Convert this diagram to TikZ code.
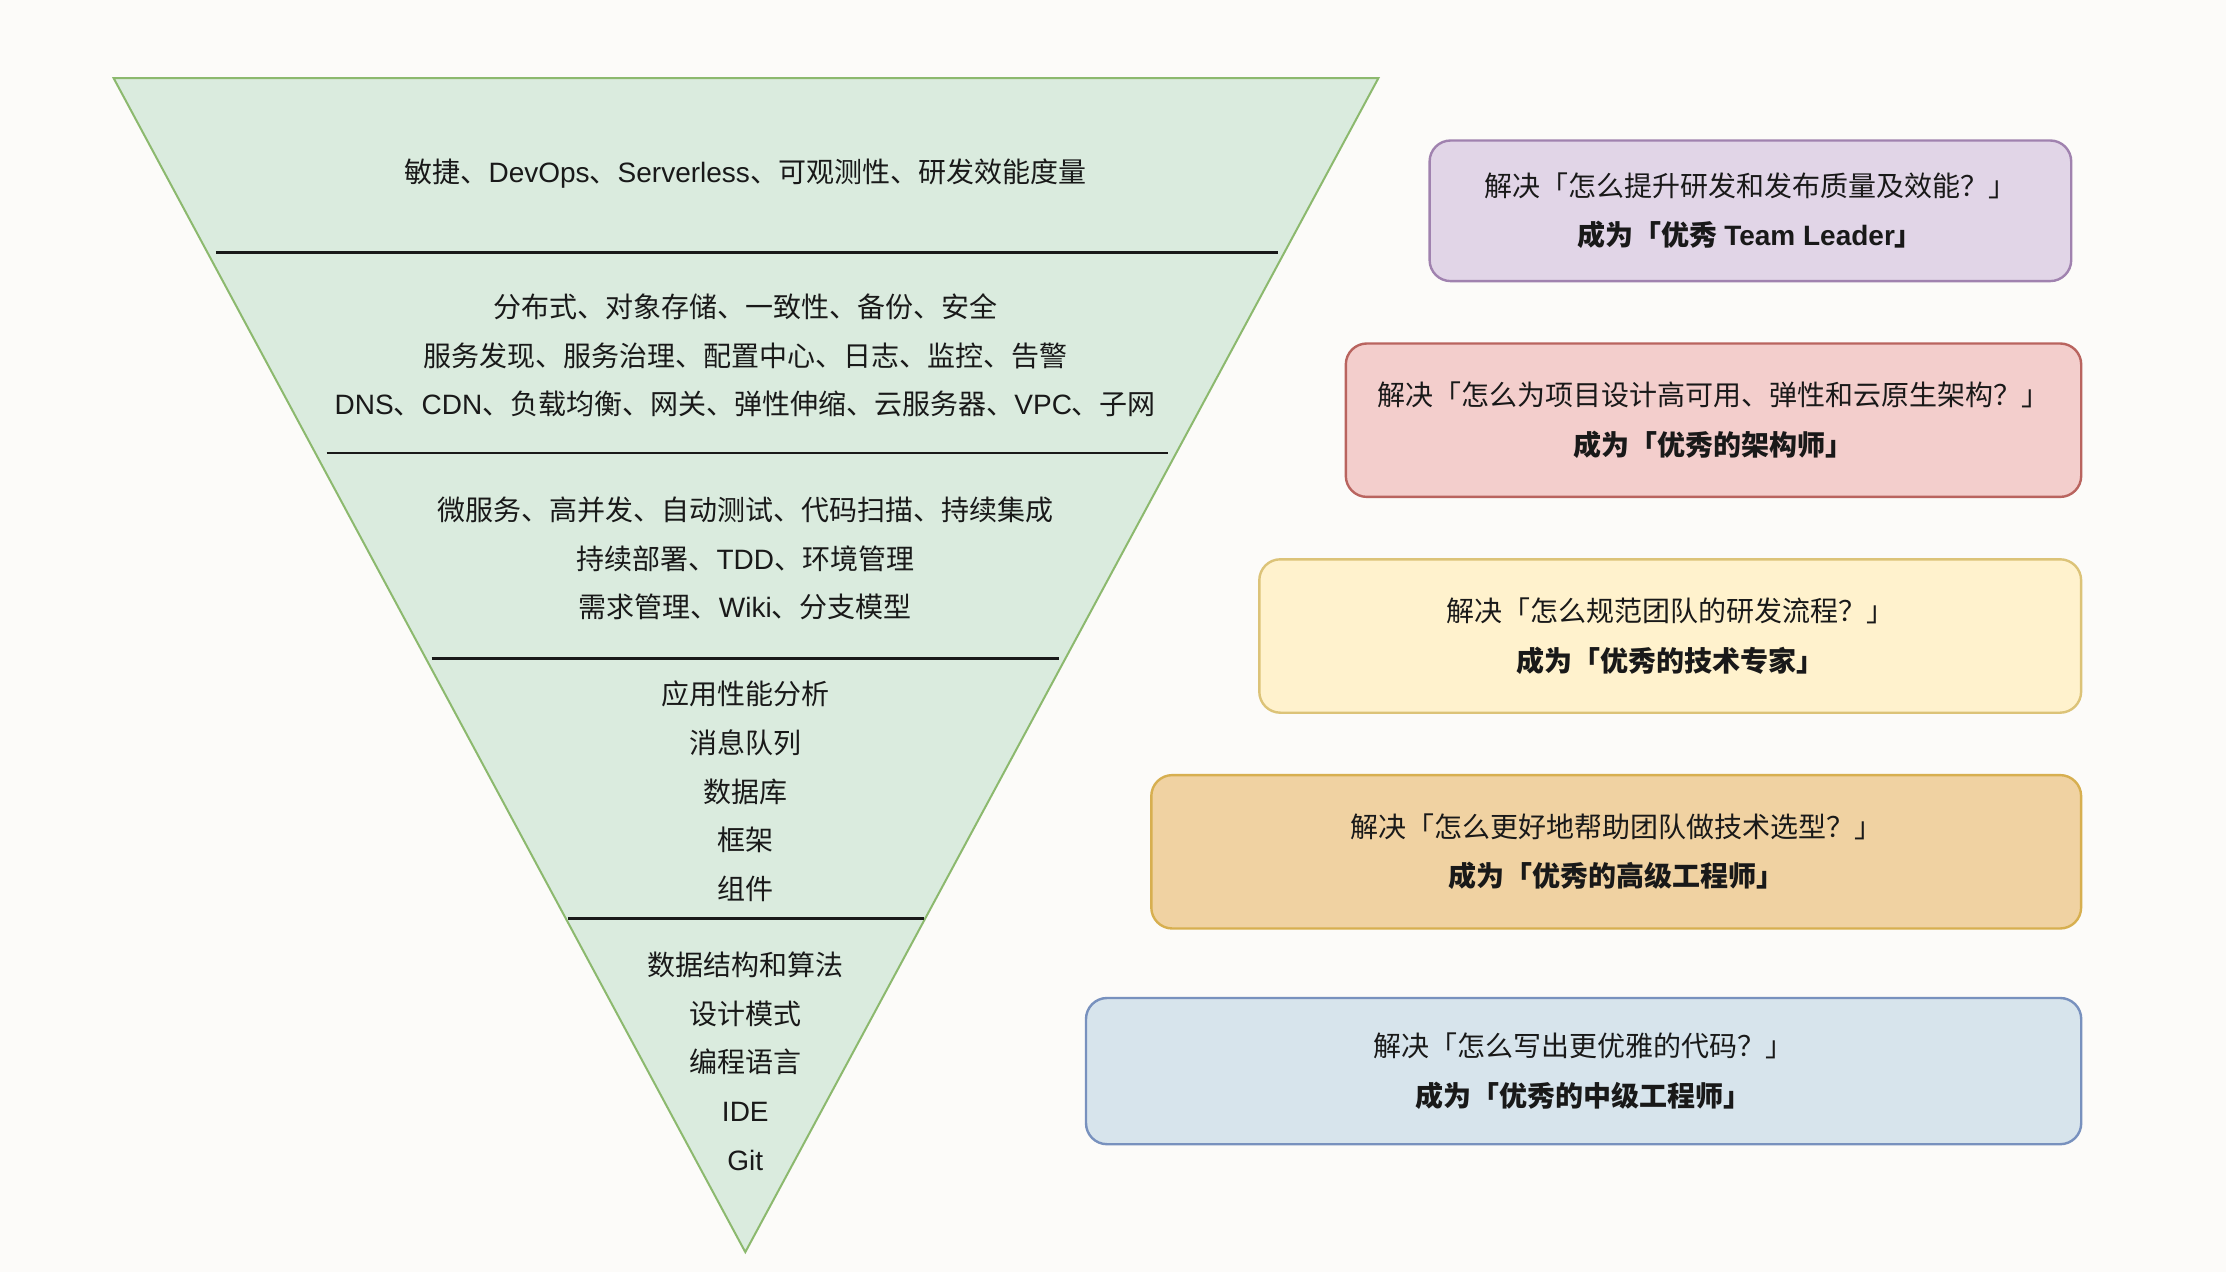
\documentclass[tikz,border=0pt]{standalone}
\usepackage{fontspec}
\setmainfont{Noto Sans CJK SC}
\newfontfamily\en{Liberation Sans}
\usetikzlibrary{calc}

\definecolor{bgc}{RGB}{252,251,249}
\definecolor{trifill}{RGB}{218,235,222}
\definecolor{tristroke}{RGB}{140,185,110}
\definecolor{purfill}{RGB}{225,213,231}
\definecolor{purline}{RGB}{160,130,175}
\definecolor{redfill}{RGB}{243,206,204}
\definecolor{redline}{RGB}{185,100,95}
\definecolor{yelfill}{RGB}{255,242,205}
\definecolor{yelline}{RGB}{220,195,120}
\definecolor{orafill}{RGB}{240,210,162}
\definecolor{oraline}{RGB}{215,175,80}
\definecolor{blufill}{RGB}{215,228,236}
\definecolor{bluline}{RGB}{120,145,190}
\definecolor{ink}{RGB}{25,25,25}

\tikzset{
  layertext/.style={inner sep=0pt, align=center, text=ink,
    font=\fontsize{14}{24.3}\selectfont},
  rolebox/.style={draw, line width=1.2pt, rounded corners=10.5pt, inner sep=0pt,
    align=center, text=ink, font=\fontsize{14}{24.8}\selectfont},
  divider/.style={draw=black!90, line width=1.3pt}
}

\begin{document}
\begin{tikzpicture}[x=0.5pt, y=-0.5pt]
  % canvas
  \fill[bgc] (0,0) rectangle (2226,1272);
  \useasboundingbox (0,0) rectangle (2226,1272);

  % inverted pyramid
  \coordinate (tl) at (113.6,78.1);
  \coordinate (tr) at (1378.4,78.1);
  \coordinate (apex) at (745.3,1252.1);
  \draw[fill=trifill, draw=tristroke, line width=1pt, line join=miter]
    (tl) -- (tr) -- (apex) -- cycle;

  % layer dividers
  \coordinate (d1l) at (215.8,252.7);  \coordinate (d1r) at (1277.6,252.7);
  \coordinate (d2l) at (326.5,452.9);  \coordinate (d2r) at (1168.3,452.9);
  \coordinate (d3l) at (431.6,658.7);  \coordinate (d3r) at (1059.0,658.7);
  \coordinate (d4l) at (567.8,918.5);  \coordinate (d4r) at (924.2,918.5);
  \draw[divider] (d1l) -- (d1r);
  \draw[divider] (d2l) -- (d2r);
  \draw[divider] (d3l) -- (d3r);
  \draw[divider] (d4l) -- (d4r);

  % layer contents
  \node[layertext] (l1) at (745.3,173.2)
    {敏捷、{\en DevOps}、{\en Serverless}、可观测性、研发效能度量};
  \node[layertext] (l2) at (745.3,355.6)
    {分布式、对象存储、一致性、备份、安全\\
     服务发现、服务治理、配置中心、日志、监控、告警\\
     {\en DNS}、{\en CDN}、负载均衡、网关、弹性伸缩、云服务器、{\en VPC}、子网};
  \node[layertext] (l3) at (745.3,558.6)
    {微服务、高并发、自动测试、代码扫描、持续集成\\
     持续部署、{\en TDD}、环境管理\\
     需求管理、{\en Wiki}、分支模型};
  \node[layertext] (l4) at (745.3,791.4)
    {应用性能分析\\消息队列\\数据库\\框架\\组件};
  \node[layertext] (l5) at (745.3,1061.1)
    {数据结构和算法\\设计模式\\编程语言\\{\en IDE}\\{\en Git}};

  % role boxes
  \node[rolebox, fill=purfill, draw=purline, minimum width=320.8pt, minimum height=70.3pt]
    (r1) at (1750.4,210.8)
    {解决「怎么提升研发和发布质量及效能？」\\
     \textbf{成为「优秀 {\en Team Leader}」}};
  \node[rolebox, fill=redfill, draw=redline, minimum width=367.7pt, minimum height=76.7pt]
    (r2) at (1713.5,420.2)
    {解决「怎么为项目设计高可用、弹性和云原生架构？」\\
     \textbf{成为「优秀的架构师」}};
  \node[rolebox, fill=yelfill, draw=yelline, minimum width=410.9pt, minimum height=76.7pt]
    (r3) at (1670.2,636.0)
    {解决「怎么规范团队的研发流程？」\\
     \textbf{成为「优秀的技术专家」}};
  \node[rolebox, fill=orafill, draw=oraline, minimum width=464.9pt, minimum height=76.7pt]
    (r4) at (1616.2,851.8)
    {解决「怎么更好地帮助团队做技术选型？」\\
     \textbf{成为「优秀的高级工程师」}};
  \node[rolebox, fill=blufill, draw=bluline, minimum width=497.6pt, minimum height=73.1pt]
    (r5) at (1583.6,1071.1)
    {解决「怎么写出更优雅的代码？」\\
     \textbf{成为「优秀的中级工程师」}};
\end{tikzpicture}
\end{document}
